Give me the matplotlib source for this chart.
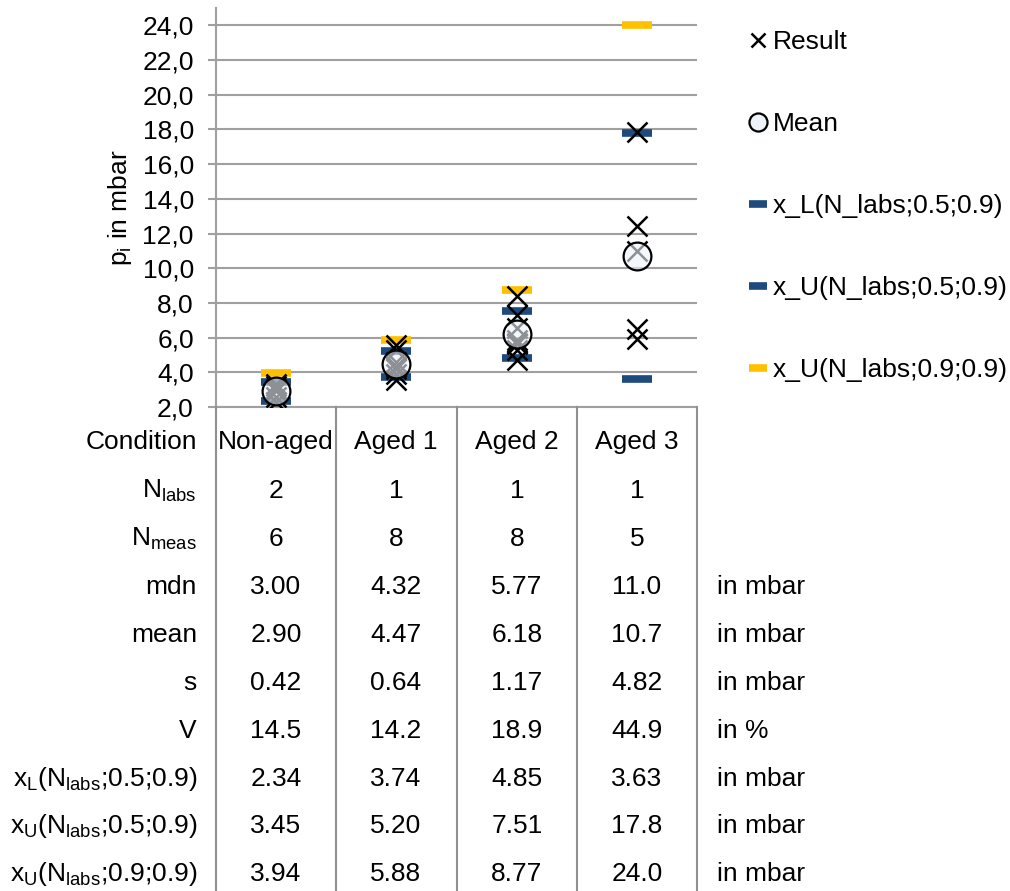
import numpy as np
import matplotlib.pyplot as plt
from matplotlib.lines import Line2D
from matplotlib.ticker import MultipleLocator, FuncFormatter

plt.rcParams['font.family'] = ['Liberation Sans', 'DejaVu Sans']
plt.rcParams['mathtext.fontset'] = 'custom'
plt.rcParams['mathtext.rm'] = 'Liberation Sans'
plt.rcParams['mathtext.it'] = 'Liberation Sans:italic'

# data
conditions = ['Non-aged', 'Aged 1', 'Aged 2', 'Aged 3']
results = [
    [2.3, 2.6, 2.95, 3.05, 3.2, 3.3],
    [3.55, 3.9, 4.2, 4.3, 4.34, 4.6, 5.3, 5.55],
    [4.7, 5.3, 5.65, 5.7, 5.84, 6.55, 7.3, 8.4],
    [5.92, 6.49, 11.0, 12.43, 17.84],
]
n_labs = [2, 1, 1, 1]
n_meas = [6, 8, 8, 5]
mdn = [3.00, 4.32, 5.77, 11.0]
mean = [2.90, 4.47, 6.18, 10.7]
s = [0.42, 0.64, 1.17, 4.82]
V = [14.5, 14.2, 18.9, 44.9]
x_L = [2.34, 3.74, 4.85, 3.63]
x_U = [3.45, 5.20, 7.51, 17.8]
x_U9 = [3.94, 5.88, 8.77, 24.0]

W, H = 1010, 891
fx = lambda x: x / W
fy = lambda y: 1 - y / H

BLUE = '#1F4A7E'
YELLOW = '#FFC000'
GRID = '#A0A0A0'
FS = 19

fig = plt.figure(figsize=(W / 100, H / 100), dpi=100)
ax = fig.add_axes([fx(216), fy(407), fx(697) - fx(216), fy(8) - fy(407)])

xs = np.arange(len(conditions))
for i, vals in enumerate(results):
    ax.plot([xs[i]] * len(vals), vals, ls='', marker='x', color='k',
            ms=15, mew=1.8, zorder=3)
ax.plot(xs, mean, ls='', marker='o', ms=20, mew=1.6, mec='k',
        mfc=(0.93, 0.95, 0.98, 0.6), zorder=4)
ax.plot(xs, x_L, ls='', marker='_', ms=21, mew=5.5, color=BLUE, zorder=2.5)
ax.plot(xs, x_U, ls='', marker='_', ms=21, mew=5.5, color=BLUE, zorder=2.5)
ax.plot(xs, x_U9, ls='', marker='_', ms=21, mew=5.5, color=YELLOW, zorder=2.5)

ax.set_xlim(-0.5, 3.5)
ax.set_ylim(2, 25)
ax.yaxis.set_major_locator(MultipleLocator(2))
ax.yaxis.set_major_formatter(FuncFormatter(lambda v, p: f'{v:.1f}'.replace('.', ',')))
ax.set_xticks([])
ax.grid(axis='y', color=GRID, lw=1.5)
ax.set_axisbelow(True)
for sp in ['top', 'right']:
    ax.spines[sp].set_visible(False)
ax.spines['left'].set_color(GRID)
ax.spines['left'].set_linewidth(1.5)
ax.spines['bottom'].set_color(GRID)
ax.spines['bottom'].set_linewidth(1.5)
ax.tick_params(axis='y', direction='out', length=6, width=1.5, color=GRID,
               labelsize=FS, pad=10)
ax.set_ylabel(r'p$_{\mathrm{i}}$ in mbar', fontsize=FS, labelpad=6)

# table below the plot
def fmt(v):
    return f'{v:.1f}' if v >= 10 else f'{v:.2f}'

row_labels = ['Condition', r'N$_{\mathrm{labs}}$', r'N$_{\mathrm{meas}}$', 'mdn',
              'mean', 's', 'V', r'x$_{\mathrm{L}}$(N$_{\mathrm{labs}}$;0.5;0.9)',
              r'x$_{\mathrm{U}}$(N$_{\mathrm{labs}}$;0.5;0.9)',
              r'x$_{\mathrm{U}}$(N$_{\mathrm{labs}}$;0.9;0.9)']
rows = [conditions, [str(v) for v in n_labs], [str(v) for v in n_meas],
        [fmt(v) for v in mdn], [fmt(v) for v in mean], [fmt(v) for v in s],
        [fmt(v) for v in V], [fmt(v) for v in x_L], [fmt(v) for v in x_U],
        [fmt(v) for v in x_U9]]
units = ['', '', '', 'in mbar', 'in mbar', 'in mbar', 'in %', 'in mbar',
         'in mbar', 'in mbar']
row_y = [440, 489, 537, 585, 633, 681, 729, 777, 824, 872]
col_x = [276, 396, 517, 637]

for lab, vals, unit, y in zip(row_labels, rows, units, row_y):
    fig.text(fx(197), fy(y + 9), lab, ha='right', va='baseline', fontsize=FS)
    for cx, v in zip(col_x, vals):
        fig.text(fx(cx), fy(y + 9), v, ha='center', va='baseline', fontsize=FS)
    if unit:
        fig.text(fx(717), fy(y + 9), unit, ha='left', va='baseline', fontsize=FS)

for bx in [216, 336, 457, 577, 697]:
    fig.add_artist(Line2D([fx(bx), fx(bx)], [fy(407), 0], color='#909090',
                          lw=1.5, transform=fig.transFigure))

handles = [
    Line2D([], [], ls='', marker='x', color='k', ms=15, mew=1.8),
    Line2D([], [], ls='', marker='o', ms=20, mew=1.6, mec='k', mfc='#EEF3FA'),
    Line2D([], [], ls='', marker='_', ms=21, mew=5.5, color=BLUE),
    Line2D([], [], ls='', marker='_', ms=21, mew=5.5, color=BLUE),
    Line2D([], [], ls='', marker='_', ms=21, mew=5.5, color=YELLOW),
]
labels = ['Result', 'Mean', 'x_L(N_labs;0.5;0.9)', 'x_U(N_labs;0.5;0.9)',
          'x_U(N_labs;0.9;0.9)']
fig.legend(handles, labels, loc='upper left', bbox_to_anchor=(fx(749), fy(30)),
           frameon=False, fontsize=FS, markerscale=0.65, handlelength=0.7,
           handletextpad=0.2, labelspacing=2.2, borderpad=0, borderaxespad=0)

fig.savefig('out.png', dpi=100)
